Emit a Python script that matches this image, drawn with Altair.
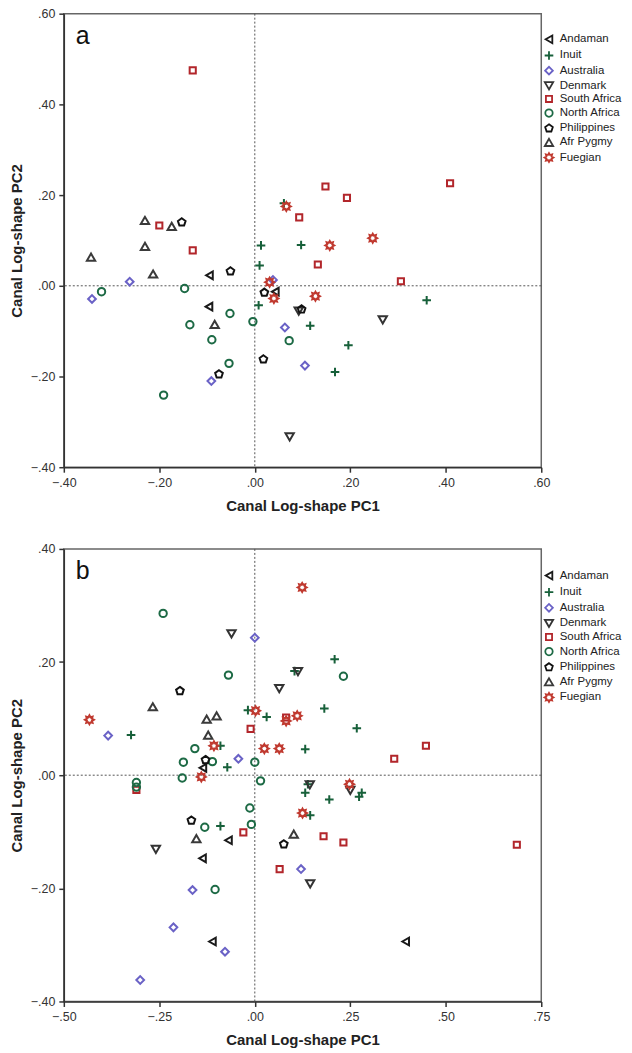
import math
import altair as alt
import pandas as pd

# ---------------- data ----------------
groups = ["Andaman", "Inuit", "Australia", "Denmark", "South Africa",
          "North Africa", "Philippines", "Afr Pygmy", "Fuegian"]

# Panel a
a_andaman_x = [-0.095, -0.096, 0.043]
a_andaman_y = [0.023, -0.046, -0.013]
a_inuit_x = [0.061, 0.013, 0.010, 0.097, 0.008, 0.360, 0.116, 0.196, 0.168]
a_inuit_y = [0.182, 0.089, 0.045, 0.090, -0.043, -0.032, -0.088, -0.131, -0.190]
a_australia_x = [-0.262, -0.341, 0.038, 0.063, 0.105, -0.091]
a_australia_y = [0.009, -0.029, 0.013, -0.092, -0.176, -0.210]
a_denmark_x = [0.073, 0.092, 0.268]
a_denmark_y = [-0.333, -0.056, -0.075]
a_safrica_x = [-0.130, -0.200, -0.130, 0.148, 0.193, 0.409, 0.093, 0.132, 0.306]
a_safrica_y = [0.475, 0.133, 0.078, 0.219, 0.194, 0.226, 0.151, 0.047, 0.010]
a_nafrica_x = [-0.321, -0.147, -0.052, -0.136, -0.004, -0.090, -0.054, -0.191, 0.072]
a_nafrica_y = [-0.013, -0.006, -0.061, -0.086, -0.079, -0.119, -0.171, -0.241, -0.121]
a_phil_x = [-0.153, -0.051, 0.020, 0.098, 0.018, -0.075]
a_phil_y = [0.140, 0.032, -0.015, -0.052, -0.162, -0.195]
a_pygmy_x = [-0.230, -0.174, -0.230, -0.343, -0.213, -0.084]
a_pygmy_y = [0.144, 0.131, 0.087, 0.063, 0.026, -0.085]
a_fuegian_x = [0.066, 0.157, 0.247, 0.031, 0.040, 0.127]
a_fuegian_y = [0.175, 0.089, 0.105, 0.008, -0.028, -0.023]

# Panel b
b_andaman_x = [-0.136, -0.069, -0.137, -0.111, 0.395]
b_andaman_y = [0.013, -0.115, -0.147, -0.294, -0.294]
b_inuit_x = [-0.324, -0.018, 0.031, -0.090, 0.132, -0.072, 0.209, 0.104, 0.182,
             0.267, -0.090, 0.139, 0.132, 0.195, 0.280, 0.273, 0.145]
b_inuit_y = [0.071, 0.115, 0.103, 0.052, 0.046, 0.014, 0.205, 0.184, 0.118,
             0.083, -0.090, -0.016, -0.031, -0.043, -0.031, -0.038, -0.071]
b_australia_x = [0.000, -0.384, -0.043, 0.121, -0.163, -0.213, -0.078, -0.300]
b_australia_y = [0.243, 0.070, 0.029, -0.166, -0.203, -0.269, -0.312, -0.362]
b_denmark_x = [-0.061, 0.064, 0.113, -0.259, 0.144, 0.250, 0.145]
b_denmark_y = [0.250, 0.153, 0.183, -0.131, -0.017, -0.027, -0.192]
b_safrica_x = [-0.011, 0.082, 0.448, 0.365, -0.310, -0.030, 0.065, 0.180, 0.232, 0.686]
b_safrica_y = [0.082, 0.102, 0.052, 0.029, -0.026, -0.101, -0.166, -0.108, -0.119, -0.123]
b_nafrica_x = [-0.240, -0.069, 0.232, -0.157, -0.187, -0.111, 0.000, -0.190, -0.310,
               -0.310, 0.015, -0.013, -0.131, -0.009, -0.104]
b_nafrica_y = [0.286, 0.177, 0.175, 0.047, 0.023, 0.024, 0.023, -0.005, -0.013,
               -0.021, -0.010, -0.058, -0.092, -0.087, -0.202]
b_phil_x = [-0.196, -0.129, -0.166, 0.076]
b_phil_y = [0.149, 0.027, -0.080, -0.122]
b_pygmy_x = [-0.267, -0.126, -0.100, -0.122, -0.153, 0.102]
b_pygmy_y = [0.121, 0.099, 0.105, 0.071, -0.112, -0.104]
b_fuegian_x = [0.124, -0.433, 0.002, 0.082, 0.111, -0.107, 0.025, 0.064, -0.140, 0.125, 0.248]
b_fuegian_y = [0.332, 0.098, 0.114, 0.096, 0.105, 0.052, 0.047, 0.047, -0.003, -0.067, -0.016]

a_ticks_x = [-0.4, -0.2, 0.0, 0.2, 0.4, 0.6]
a_ticks_y = [-0.4, -0.2, 0.0, 0.2, 0.4, 0.6]
b_ticks_x = [-0.5, -0.25, 0.0, 0.25, 0.5, 0.75]
b_ticks_y = [-0.4, -0.2, 0.0, 0.2, 0.4]

# ---------------- styles ----------------
colors = ["#1a1a1a", "#17603a", "#6a62c6", "#333333", "#b2262b",
          "#1d6a45", "#111111", "#3a3a3a", "#c0392f"]
sizes = [60, 75, 60, 70, 38, 55, 65, 70, 80]

plus_path = "M-1,0L1,0M0,-1L0,1"
pent = []
for k in range(5):
    ang = math.radians(-90 + 72 * k)
    pent.append(f"{math.cos(ang):.3f},{math.sin(ang):.3f}")
pent_path = "M" + "L".join(pent) + "Z"
star = []
for k in range(16):
    ang = math.radians(-90 + 22.5 * k)
    r = 1.0 if k % 2 == 0 else 0.62
    star.append(f"{r * math.cos(ang):.3f},{r * math.sin(ang):.3f}")
star_path = "M" + "L".join(star) + "Z"

shapes = ["triangle-left", plus_path, "diamond", "triangle-down", "square",
          "circle", pent_path, "triangle-up", star_path]

label_expr = "replace(format(datum.value, '.2f'), '0.', '.')"
FONT = "Liberation Sans"


def make_df(pairs):
    rows = []
    for g, (xs, ys) in zip(groups, pairs):
        for xv, yv in zip(xs, ys):
            rows.append({"group": g, "x": xv, "y": yv})
    return pd.DataFrame(rows)


def panel(df, xdom, ydom, xticks, yticks, letter, h, legy, rowpad):
    xs = alt.Scale(domain=xdom, nice=False, zero=False)
    ys = alt.Scale(domain=ydom, nice=False, zero=False)
    xaxis = alt.Axis(values=xticks, labelExpr=label_expr, title="Canal Log-shape PC1")
    yaxis = alt.Axis(values=yticks, labelExpr=label_expr, title="Canal Log-shape PC2")
    leg = alt.Legend(title=None, orient="none", legendX=481, legendY=legy, rowPadding=rowpad)
    pts = alt.Chart(df).mark_point(filled=False, strokeWidth=2, opacity=1).encode(
        x=alt.X("x:Q", scale=xs, axis=xaxis),
        y=alt.Y("y:Q", scale=ys, axis=yaxis),
        color=alt.Color("group:N", scale=alt.Scale(domain=groups, range=colors), legend=leg),
        shape=alt.Shape("group:N", scale=alt.Scale(domain=groups, range=shapes), legend=leg),
        size=alt.Size("group:N", scale=alt.Scale(type="ordinal", domain=groups, range=sizes),
                      legend=leg),
    )
    zero = pd.DataFrame({"v": [0.0]})
    vr = alt.Chart(zero).mark_rule(color="#555555", strokeDash=[2, 2], strokeWidth=1).encode(
        x=alt.X("v:Q", scale=xs))
    hr = alt.Chart(zero).mark_rule(color="#555555", strokeDash=[2, 2], strokeWidth=1).encode(
        y=alt.Y("v:Q", scale=ys))
    txt = alt.Chart(zero).mark_text(text=letter, align="left", baseline="alphabetic",
                                     fontSize=25, font=FONT, color="#111111").encode(
        x=alt.value(12), y=alt.value(30))
    return alt.layer(vr, hr, pts, txt).properties(width=479, height=h)


df_a = make_df([(a_andaman_x, a_andaman_y), (a_inuit_x, a_inuit_y),
                (a_australia_x, a_australia_y), (a_denmark_x, a_denmark_y),
                (a_safrica_x, a_safrica_y), (a_nafrica_x, a_nafrica_y),
                (a_phil_x, a_phil_y), (a_pygmy_x, a_pygmy_y), (a_fuegian_x, a_fuegian_y)])
df_b = make_df([(b_andaman_x, b_andaman_y), (b_inuit_x, b_inuit_y),
                (b_australia_x, b_australia_y), (b_denmark_x, b_denmark_y),
                (b_safrica_x, b_safrica_y), (b_nafrica_x, b_nafrica_y),
                (b_phil_x, b_phil_y), (b_pygmy_x, b_pygmy_y), (b_fuegian_x, b_fuegian_y)])

pa = panel(df_a, [-0.4, 0.6], [-0.4, 0.6], a_ticks_x, a_ticks_y, "a", 455, 20, -0.8)
pb = panel(df_b, [-0.5, 0.75], [-0.4, 0.4], b_ticks_x, b_ticks_y, "b", 454, 21, -0.35)

chart = alt.vconcat(pa, pb, spacing=27).resolve_scale(
    x="independent", y="independent", color="independent", shape="independent",
    size="independent"
).resolve_legend(color="independent", shape="independent", size="independent").properties(
    padding={"left": 0, "top": -3, "right": 0, "bottom": 0}
).configure(font=FONT).configure_view(
    stroke="#666666", strokeWidth=1.5
).configure_axis(
    grid=False, domainColor="#333333", domainWidth=1.5, tickColor="#333333",
    tickWidth=1.5, tickSize=5, labelFontSize=12.5, labelColor="#333333",
    labelPadding=4, labelFont=FONT, titleFont=FONT, titleFontSize=15,
    titleFontWeight="bold", titleColor="#222222", labelFlush=False
).configure_axisX(titlePadding=10).configure_axisY(titlePadding=6).configure_legend(
    labelFontSize=11.5, labelColor="#222222", labelFont=FONT,
    symbolStrokeWidth=1.8, labelOffset=5, padding=0
)

chart.save("out.html", embed_options={"renderer": "svg", "actions": False})
